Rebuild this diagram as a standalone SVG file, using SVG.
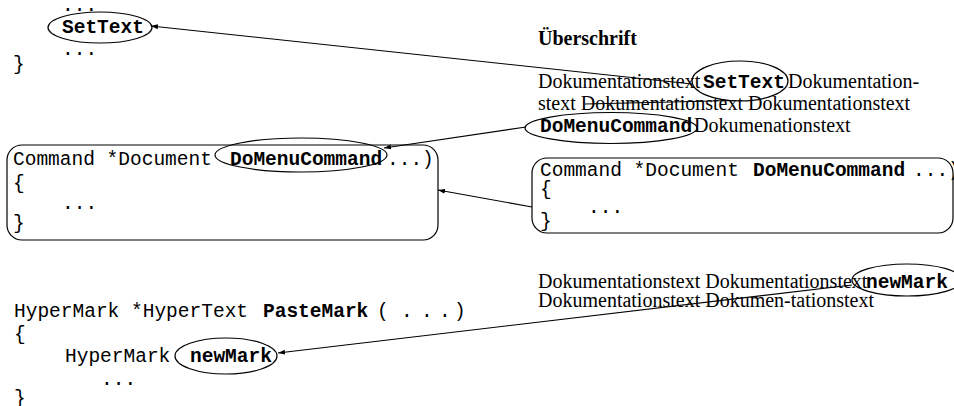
<svg xmlns="http://www.w3.org/2000/svg" width="954" height="406" viewBox="0 0 954 406">
<style>
.code{font-family:"Liberation Mono","Courier New",monospace;font-size:19.5px;fill:#000}
.b{font-weight:bold}
.doc{font-family:"Liberation Serif","Times New Roman",serif;font-size:20px;fill:#000}
.shape{fill:none;stroke:#000;stroke-width:1.2}
.conn{fill:none;stroke:#000;stroke-width:1.1;marker-end:url(#ah)}
</style>
<defs>
<marker id="ah" viewBox="0 0 10 10" refX="10" refY="5" markerWidth="7" markerHeight="7" markerUnits="userSpaceOnUse" orient="auto">
<path d="M0,1.5 L10,5 L0,8.5 Z" fill="#000"/>
</marker>
</defs>
<rect width="954" height="406" fill="#fff"/>

<g id="code-settext">
<text class="code" x="62" y="11">...</text>
<text class="code b" x="62" y="33">SetText</text>
<text class="code" x="62" y="55">...</text>
<text class="code" x="13" y="70">}</text>
<ellipse class="shape" cx="100" cy="27.5" rx="52" ry="15.5"/>
</g>

<g id="doc-block-1">
<text class="doc b" x="538" y="45">Überschrift</text>
<text class="doc" x="538" y="88">Dokumentationstext</text>
<text class="code b" x="703" y="88">SetText</text>
<text class="doc" x="788" y="88">Dokumentation-</text>
<text class="doc" x="538" y="110">stext Dokumentationstext Dokumentationstext</text>
<text class="code b" x="540" y="132">DoMenuCommand</text>
<text class="doc" x="694" y="132">Dokumenationstext</text>
<ellipse class="shape" cx="740" cy="81" rx="48" ry="20"/>
<path class="shape" d="M735,100.5 L585,104"/>
<ellipse class="shape" cx="611" cy="128" rx="86" ry="15.5"/>
</g>

<g id="box-left">
<rect class="shape" x="7" y="145" width="431" height="95" rx="15" ry="15"/>
<text class="code" x="13" y="165">Command *Document</text>
<text class="code b" x="230" y="165">DoMenuCommand</text>
<text class="code" x="387" y="165">...)</text>
<text class="code" x="13" y="189">{</text>
<text class="code" x="62" y="209">...</text>
<text class="code" x="13" y="229">}</text>
<ellipse class="shape" cx="301" cy="155" rx="86" ry="17"/>
</g>

<g id="box-right">
<rect class="shape" x="532" y="158" width="421" height="75" rx="15" ry="15"/>
<text class="code" x="540" y="176">Command *Document</text>
<text class="code b" x="753" y="176">DoMenuCommand</text>
<text class="code" x="913" y="176">...)</text>
<text class="code" x="540" y="195">{</text>
<text class="code" x="588" y="213">...</text>
<text class="code" x="540" y="227">}</text>
</g>

<g id="doc-block-2">
<text class="doc" x="538" y="288">Dokumentationstext Dokumentationstext</text>
<text class="code b" x="866" y="288">newMark</text>
<text class="doc" x="538" y="307">Dokumentationstext Dokumen-tationstext</text>
<ellipse class="shape" cx="907" cy="280" rx="55" ry="16"/>
</g>

<g id="code-pastemark">
<text class="code" x="14" y="317">HyperMark *HyperText</text>
<text class="code b" x="263" y="317">PasteMark</text>
<text class="code" x="377 401 421 439 454" y="317">(...)</text>
<text class="code" x="14" y="340">{</text>
<text class="code" x="65" y="362">HyperMark</text>
<text class="code b" x="190" y="362">newMark</text>
<text class="code" x="101" y="385">...</text>
<text class="code" x="14" y="404">}</text>
<ellipse class="shape" cx="226" cy="356" rx="51" ry="18"/>
</g>

<g id="connectors">
<line class="conn" x1="692" y1="84" x2="151" y2="26"/>
<line class="conn" x1="526" y1="127" x2="384" y2="148"/>
<line class="conn" x1="532" y1="207" x2="438" y2="190"/>
<line class="conn" x1="852" y1="285" x2="278" y2="353"/>
</g>
</svg>
